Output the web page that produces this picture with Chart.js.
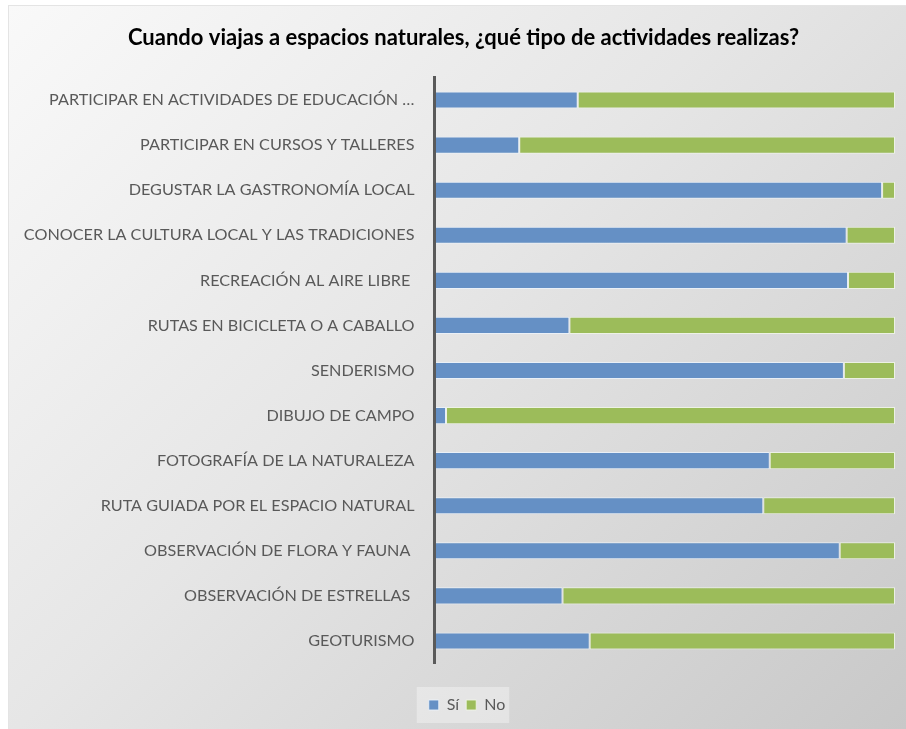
<!DOCTYPE html>
<html>
<head>
<meta charset="utf-8">
<script src="https://cdn.jsdelivr.net/npm/chart.js@4"></script>
<style>
  html, body { margin: 0; padding: 0; background: #ffffff; }
  #wrap { position: absolute; left: 9px; top: 6px; width: 897px; height: 723px;
          background: linear-gradient(135deg, #f9f9f9 0%, #e6e6e6 45%, #c8c8c8 100%);
          box-shadow: 0 0 0 1px #e4e4e4; }
  canvas { display: block; }
</style>
</head>
<body>
<div id="wrap"><canvas id="c" width="897" height="723"></canvas></div>
<script>
const title = 'Cuando viajas a espacios naturales, ¿qué tipo de actividades realizas?';
const categories = [
  'PARTICIPAR EN ACTIVIDADES DE EDUCACIÓN …',
  'PARTICIPAR EN CURSOS Y TALLERES',
  'DEGUSTAR LA GASTRONOMÍA LOCAL',
  'CONOCER LA CULTURA LOCAL Y LAS TRADICIONES',
  'RECREACIÓN AL AIRE LIBRE ',
  'RUTAS EN BICICLETA O A CABALLO',
  'SENDERISMO',
  'DIBUJO DE CAMPO',
  'FOTOGRAFÍA DE LA NATURALEZA',
  'RUTA GUIADA POR EL ESPACIO NATURAL',
  'OBSERVACIÓN DE FLORA Y FAUNA ',
  'OBSERVACIÓN DE ESTRELLAS ',
  'GEOTURISMO'
];
const seriesNames = ['Sí', 'No'];
const siValues = [31.1, 18.4, 97.2, 89.5, 89.8, 29.3, 88.9, 2.5, 72.8, 71.4, 88.0, 27.8, 33.7];
const noValues = [68.9, 81.6, 2.8, 10.5, 10.2, 70.7, 11.1, 97.5, 27.2, 28.6, 12.0, 72.2, 66.3];

// Title and legend in the reference are centred slightly right of the canvas centre
const boxShift = {
  id: 'boxShift',
  afterLayout(chart) {
    if (chart.titleBlock) { chart.titleBlock.left += 11.5; chart.titleBlock.right += 11.5; }
    if (chart.legend) { chart.legend.left += 15; chart.legend.right += 15; }
  }
};
const legendBg = {
  id: 'legendBg',
  beforeDraw(chart) {
    const lg = chart.legend;
    if (!lg || !lg.legendHitBoxes || !lg.legendHitBoxes.length) return;
    const hb = lg.legendHitBoxes;
    const first = hb[0], last = hb[hb.length - 1];
    const cy = first.top + first.height / 2;
    const ctx = chart.ctx;
    ctx.save();
    ctx.fillStyle = 'rgba(255,255,255,0.35)';
    ctx.fillRect(first.left - 12, cy - 18, (last.left + last.width) - first.left + 16, 36);
    ctx.restore();
  }
};

new Chart(document.getElementById('c'), {
  type: 'bar',
  data: {
    labels: categories,
    datasets: [
      { label: seriesNames[0], data: siValues, backgroundColor: '#6590c5',
        borderColor: 'rgba(235,242,250,0.85)', borderWidth: 1, borderSkipped: false },
      { label: seriesNames[1], data: noValues, backgroundColor: '#9cbc5a',
        borderColor: 'rgba(240,246,230,0.85)', borderWidth: 1, borderSkipped: false }
    ]
  },
  options: {
    indexAxis: 'y',
    responsive: false,
    animation: false,
    layout: { padding: { left: 0, right: 11, top: 0, bottom: 6 } },
    datasets: { bar: { categoryPercentage: 1, barPercentage: 0.38 } },
    scales: {
      x: {
        stacked: true, min: 0, max: 100,
        display: true,
        grid: { display: false },
        border: { display: false },
        ticks: { display: false },
        afterFit(scale) { scale.height = 26.5; }
      },
      y: {
        stacked: true,
        grid: { display: false, drawTicks: false },
        border: { display: true, color: '#5a5a5a', width: 3, z: 1 },
        ticks: { color: '#595959', padding: 20, font: { family: 'Lato', size: 16.2 } },
        afterFit(scale) { scale.width = 425.5; }
      }
    },
    plugins: {
      title: {
        display: true, text: title, color: '#000000',
        font: { family: 'Lato', size: 22, weight: 'bold', lineHeight: 1.2 },
        padding: { top: 18.8, bottom: 26.3 }
      },
      legend: {
        display: true, position: 'bottom',
        labels: { color: '#595959', boxWidth: 10, boxHeight: 10, padding: 7,
                  font: { family: 'Lato', size: 16 } }
      },
      tooltip: { enabled: false }
    }
  },
  plugins: [boxShift, legendBg]
});
</script>
</body>
</html>
